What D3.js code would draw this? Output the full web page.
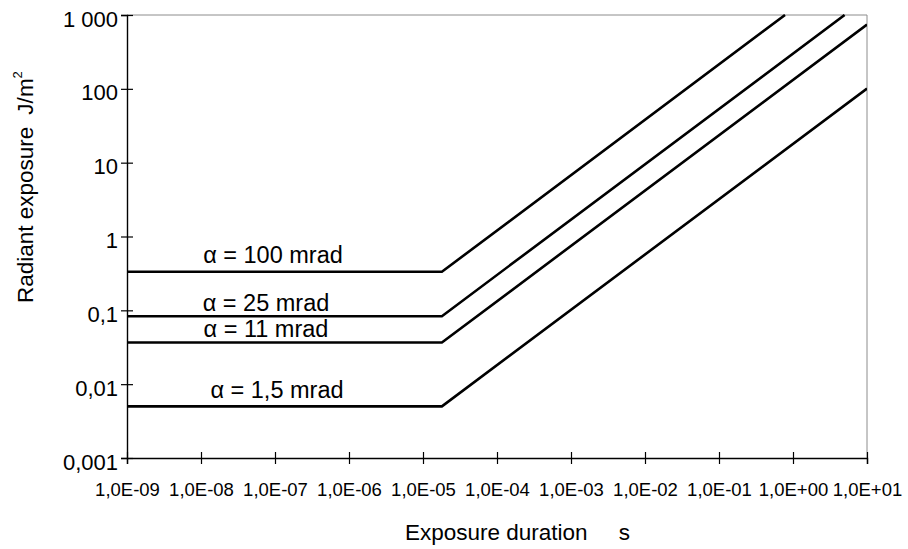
<!DOCTYPE html>
<html>
<head>
<meta charset="utf-8">
<script src="https://cdn.jsdelivr.net/npm/d3@7/dist/d3.min.js"></script>
<style>
  html, body { margin: 0; padding: 0; background: #fff; }
  svg { display: block; font-family: "Liberation Sans", Arial, sans-serif; }
</style>
</head>
<body>
<svg id="chart" width="908" height="549"></svg>
<script>
// Exposure limits: radiant exposure vs exposure duration, per source angle α
const seriesNames = ["α = 100 mrad", "α = 25 mrad", "α = 11 mrad", "α = 1,5 mrad"];
const series100 = [[1e-9, 0.333], [1.8e-5, 0.333], [0.78, 1000]];
const series25  = [[1e-9, 0.0833], [1.8e-5, 0.0833], [4.98, 1000]];
const series11  = [[1e-9, 0.0367], [1.8e-5, 0.0367], [10, 742]];
const series1_5 = [[1e-9, 0.005], [1.8e-5, 0.005], [10, 101]];
const allSeries = [series100, series25, series11, series1_5];

const xTickValues = [1e-9, 1e-8, 1e-7, 1e-6, 1e-5, 1e-4, 1e-3, 1e-2, 1e-1, 1e0, 1e1];
const xTickLabels = ["1,0E-09", "1,0E-08", "1,0E-07", "1,0E-06", "1,0E-05", "1,0E-04",
                     "1,0E-03", "1,0E-02", "1,0E-01", "1,0E+00", "1,0E+01"];
const yTickValues = [0.001, 0.01, 0.1, 1, 10, 100, 1000];
const yTickLabels = ["0,001", "0,01", "0,1", "1", "10", "100", "1 000"];

const svg = d3.select("#chart");
const W = 908, H = 549;
const margin = { top: 15, right: 41, bottom: 91, left: 127 };
const x0 = margin.left, x1 = W - margin.right;
const y0 = H - margin.bottom, y1 = margin.top;

const x = d3.scaleLog().domain([1e-9, 10]).range([x0, x1]);
const y = d3.scaleLog().domain([0.001, 1000]).range([y0, y1]);

// frame: top and right edges in grey
svg.append("path")
  .attr("d", `M${x0},${y1}H${x1}V${y0}`)
  .attr("fill", "none").attr("stroke", "#8c8c8c").attr("stroke-width", 1);

// clip for the curves
svg.append("clipPath").attr("id", "plotclip")
  .append("rect").attr("x", x0).attr("y", y1 - 1).attr("width", x1 - x0).attr("height", y0 - y1 + 1);

const line = d3.line().x(d => x(d[0])).y(d => y(d[1]));
svg.append("g").attr("clip-path", "url(#plotclip)")
  .selectAll("path").data(allSeries).join("path")
  .attr("d", line)
  .attr("fill", "none").attr("stroke", "#000").attr("stroke-width", 2.6)
  .attr("stroke-linejoin", "miter");

// series labels above the flat part of each curve
const labelX = [273, 266, 266, 277];
const labelDy = [-9, -5.5, -5.5, -8.5];
svg.append("g").selectAll("text").data(seriesNames).join("text")
  .attr("x", (d, i) => labelX[i])
  .attr("y", (d, i) => y(allSeries[i][0][1]) + labelDy[i])
  .attr("text-anchor", "middle")
  .attr("font-size", 23.5).attr("fill", "#000")
  .text(d => d);

// x axis
const xAxis = svg.append("g").attr("transform", `translate(0,${y0})`)
  .call(d3.axisBottom(x).tickValues(xTickValues)
    .tickFormat((d, i) => xTickLabels[i]).tickSize(6).tickPadding(0));
xAxis.select(".domain").attr("stroke", "#000").attr("stroke-width", 1.4);
xAxis.selectAll(".tick line").attr("y1", -6).attr("y2", 6).attr("stroke-width", 1.2);
xAxis.selectAll(".tick text").attr("font-size", 18.5).attr("font-family", "Liberation Sans, Arial, sans-serif")
  .attr("fill", "#000").attr("y", 0).attr("dy", 37.5);

// y axis
const yAxis = svg.append("g").attr("transform", `translate(${x0},0)`)
  .call(d3.axisLeft(y).tickValues(yTickValues)
    .tickFormat((d, i) => yTickLabels[i]).tickSize(6).tickPadding(0));
yAxis.select(".domain").attr("stroke", "#000").attr("stroke-width", 1.4);
yAxis.selectAll(".tick line").attr("x1", -6).attr("x2", 6).attr("stroke-width", 1.2);
yAxis.selectAll(".tick text").attr("font-size", 22).attr("font-family", "Liberation Sans, Arial, sans-serif")
  .attr("fill", "#000").attr("x", -9).attr("dy", 11).attr("text-anchor", "end");

// axis titles
const xt = svg.append("text")
  .attr("x", 405).attr("y", 540)
  .attr("font-size", 22.5).attr("fill", "#000");
xt.append("tspan").text("Exposure duration");
xt.append("tspan").attr("dx", 31).text("s");

const yt = svg.append("text")
  .attr("transform", "translate(33,303) rotate(-90)")
  .attr("font-size", 22.5).attr("fill", "#000");
yt.append("tspan").text("Radiant exposure");
yt.append("tspan").attr("dx", 12).text("J/m");
yt.append("tspan").attr("font-size", 13).attr("dy", -11).text("2");
</script>
</body>
</html>
